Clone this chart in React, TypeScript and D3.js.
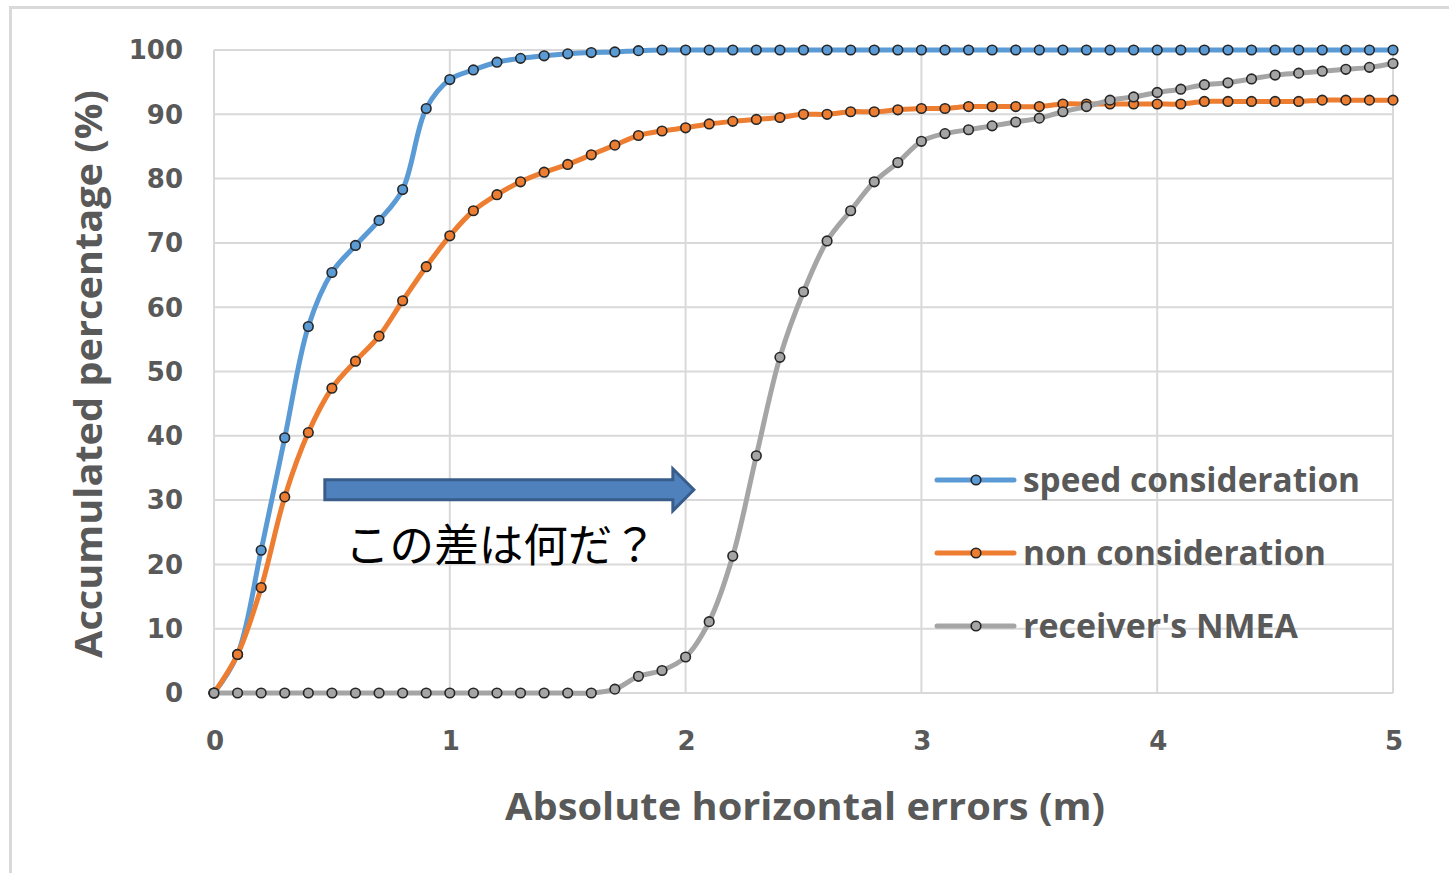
import * as d3 from 'd3'

// x categories (m)
const errors = [
  0, 0.1, 0.2, 0.3, 0.4, 0.5, 0.6, 0.7, 0.8, 0.9,
  1, 1.1, 1.2, 1.3, 1.4, 1.5, 1.6, 1.7, 1.8, 1.9,
  2, 2.1, 2.2, 2.3, 2.4, 2.5, 2.6, 2.7, 2.8, 2.9,
  3, 3.1, 3.2, 3.3, 3.4, 3.5, 3.6, 3.7, 3.8, 3.9,
  4, 4.1, 4.2, 4.3, 4.4, 4.5, 4.6, 4.7, 4.8, 4.9, 5,
]

const speedConsideration = [
  0, 6, 22.2, 39.7, 57.0, 65.4, 69.6, 73.5, 78.3, 90.9,
  95.4, 96.9, 98.1, 98.7, 99.1, 99.4, 99.6, 99.7, 99.9, 100,
  100, 100, 100, 100, 100, 100, 100, 100, 100, 100,
  100, 100, 100, 100, 100, 100, 100, 100, 100, 100,
  100, 100, 100, 100, 100, 100, 100, 100, 100, 100, 100,
]

const nonConsideration = [
  0, 6.0, 16.4, 30.5, 40.5, 47.4, 51.6, 55.5, 61.0, 66.3,
  71.1, 75.0, 77.5, 79.5, 81.0, 82.2, 83.7, 85.2, 86.7, 87.4,
  87.9, 88.5, 88.9, 89.2, 89.5, 90.0, 90.0, 90.4, 90.4, 90.7,
  90.9, 90.9, 91.2, 91.2, 91.2, 91.2, 91.6, 91.6, 91.6, 91.6,
  91.6, 91.6, 92.0, 92.0, 92.0, 92.0, 92.0, 92.2, 92.2, 92.2, 92.2,
]

const receiverNmea = [
  0, 0, 0, 0, 0, 0, 0, 0, 0, 0,
  0, 0, 0, 0, 0, 0, 0, 0.6, 2.6, 3.5,
  5.6, 11.1, 21.3, 36.9, 52.2, 62.4, 70.3, 75.0, 79.5, 82.5,
  85.8, 87.0, 87.6, 88.2, 88.8, 89.4, 90.4, 91.2, 92.2, 92.7,
  93.4, 93.9, 94.6, 94.9, 95.5, 96.1, 96.4, 96.7, 97.0, 97.3, 97.9,
]

const seriesNames = ['speed consideration', 'non consideration', "receiver's NMEA"]
const seriesColors = ['#5B9BD5', '#ED7D31', '#A5A5A5']
const yTicks = [0, 10, 20, 30, 40, 50, 60, 70, 80, 90, 100]
const xTicks = [0, 1, 2, 3, 4, 5]

// annotation arrow in data coords: [x start, x tip, y]
const arrowSpan = [0.47, 2.035, 31.6]
const note = 'この差は何だ？'

const W = 1449, H = 873
const plot = { left: 214, right: 1393, top: 50, bottom: 693 }

export default function App() {
  const x = d3.scaleLinear().domain([0, 5]).range([plot.left, plot.right])
  const y = d3.scaleLinear().domain([0, 100]).range([plot.bottom, plot.top])

  const line = d3.line<number>()
    .x((_, i) => x(errors[i]))
    .y(d => y(d))
    .curve(d3.curveCatmullRom.alpha(0.5))

  const allSeries = [speedConsideration, nonConsideration, receiverNmea]

  const tickFont = '"DejaVu Sans", Verdana, sans-serif'
  const titleFont = '"Open Sans", "Noto Sans", sans-serif'
  const textColor = '#595959'

  // arrow geometry
  const ax0 = x(arrowSpan[0]), ax1 = x(arrowSpan[1]), ay = y(arrowSpan[2])
  const headLen = 21, bodyHalf = 10, headHalf = 21
  const arrowPath = [
    [ax0, ay - bodyHalf], [ax1 - headLen, ay - bodyHalf], [ax1 - headLen, ay - headHalf],
    [ax1, ay], [ax1 - headLen, ay + headHalf], [ax1 - headLen, ay + bodyHalf], [ax0, ay + bodyHalf],
  ].map(p => p.join(',')).join(' ')

  const legendY = [480, 553, 626]
  const legendWidths = [337, 303, 275]

  return (
    <svg width={W} height={H} style={{ position: 'absolute', left: 0, top: 0, background: '#fff' }}>
      <rect x={10.5} y={7.5} width={W + 10} height={H + 10} fill="#fff" stroke="#D9D9D9" strokeWidth={3} />

      {/* gridlines */}
      {yTicks.map(t => (
        <line key={'gy' + t} x1={plot.left} x2={plot.right} y1={y(t)} y2={y(t)} stroke="#D9D9D9" strokeWidth={2} />
      ))}
      {xTicks.map(t => (
        <line key={'gx' + t} x1={x(t)} x2={x(t)} y1={plot.top} y2={plot.bottom} stroke="#D9D9D9" strokeWidth={2} />
      ))}

      {/* tick labels */}
      {yTicks.map(t => (
        <text key={'ty' + t} x={183} y={y(t)} dy="0.36em" textAnchor="end" fontFamily={tickFont}
          fontWeight="bold" fontSize={26} fill={textColor}>{t}</text>
      ))}
      {xTicks.map(t => (
        <text key={'tx' + t} x={x(t) + 1} y={741} dy="0.36em" textAnchor="middle" fontFamily={tickFont}
          fontWeight="bold" fontSize={26} fill={textColor}>{t}</text>
      ))}

      {/* axis titles */}
      <text x={805} y={806} dy="0.36em" textAnchor="middle" fontFamily={titleFont} fontWeight="bold"
        fontSize={38} fill={textColor} textLength={600} lengthAdjust="spacingAndGlyphs">
        Absolute horizontal errors (m)
      </text>
      <text transform="translate(88,374) rotate(-90)" dy="0.36em" textAnchor="middle" fontFamily={titleFont}
        fontWeight="bold" fontSize={38} fill={textColor} textLength={568} lengthAdjust="spacingAndGlyphs">
        Accumulated percentage (%)
      </text>

      {/* series */}
      {allSeries.map((s, si) => (
        <g key={'s' + si}>
          <path d={line(s) || ''} fill="none" stroke={seriesColors[si]} strokeWidth={5}
            strokeLinejoin="round" strokeLinecap="round" />
          {s.map((v, i) => (
            <circle key={i} cx={x(errors[i])} cy={y(v)} r={4.8} fill={seriesColors[si]}
              stroke="#262626" strokeWidth={1.6} />
          ))}
        </g>
      ))}

      {/* legend */}
      {seriesNames.map((n, i) => (
        <g key={'l' + i}>
          <line x1={937} x2={1014} y1={legendY[i]} y2={legendY[i]} stroke={seriesColors[i]} strokeWidth={5}
            strokeLinecap="round" />
          <circle cx={976} cy={legendY[i]} r={4.8} fill={seriesColors[i]} stroke="#262626" strokeWidth={1.6} />
          <text x={1023} y={legendY[i]} dy="0.36em" fontFamily={titleFont} fontWeight="bold" fontSize={34}
            fill={textColor} textLength={legendWidths[i]} lengthAdjust="spacingAndGlyphs">{n}</text>
        </g>
      ))}

      {/* annotation */}
      <polygon points={arrowPath} fill="#4F81BD" stroke="#385D8A" strokeWidth={3} strokeLinejoin="miter" />
      <text x={345} y={546} dy="0.36em" fontFamily='"Noto Sans CJK JP", sans-serif' fontSize={45} fill="#000"
        textLength={312} lengthAdjust="spacingAndGlyphs">{note}</text>
    </svg>
  )
}
